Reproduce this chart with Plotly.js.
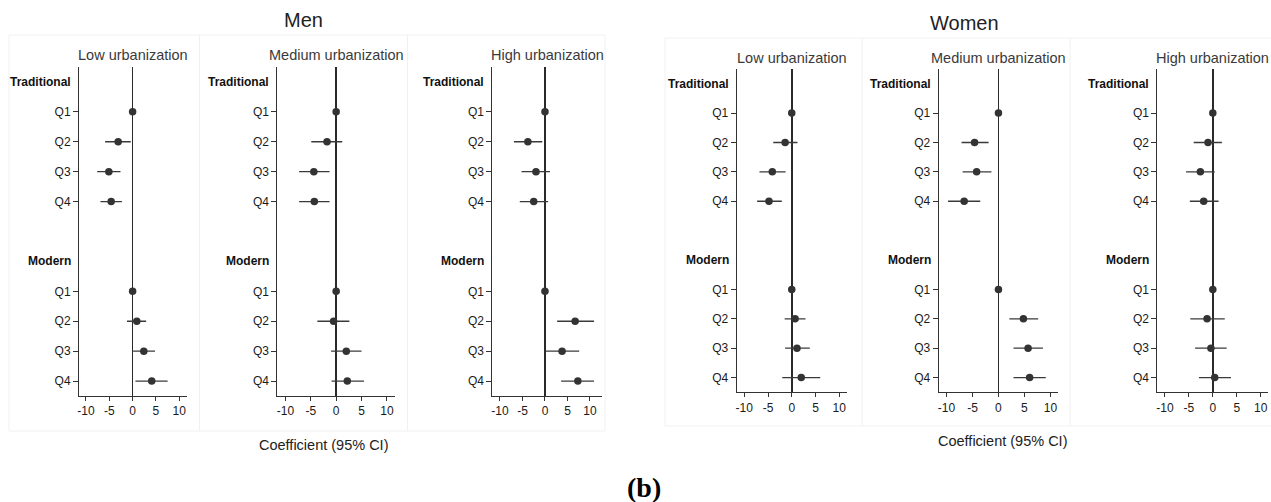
<!DOCTYPE html>
<html>
<head>
<meta charset="utf-8">
<script src="https://cdn.plot.ly/plotly-3.0.1.min.js"></script>
<style>html,body{margin:0;padding:0;background:#fff;}#chart{width:1271px;height:502px;}</style>
</head>
<body>
<div id="chart"></div>
<script>
// ---- Data ----
const sexes = ['Men', 'Women'];
const urbanLevels = ['Low urbanization', 'Medium urbanization', 'High urbanization'];
const groupHeaders = ['Traditional', 'Modern'];
const quartiles = ['Q1', 'Q2', 'Q3', 'Q4'];
const xTickVals = [-10, -5, 0, 5, 10];
const xTickText = ['-10', '-5', '0', '5', '10'];
const xAxisLabel = 'Coefficient (95% CI)';
const panelLetter = '(b)';

// Order in each series: Traditional Q1..Q4, Modern Q1..Q4
const menLowCoef   = [0, -3.1, -5.1, -4.6, 0, 0.9, 2.4, 4.1];
const menLowLo     = [0, -5.9, -7.6, -6.9, 0, -1.2, 0.1, 0.6];
const menLowHi     = [0, -0.4, -2.6, -2.3, 0, 2.9, 4.8, 7.5];
const menMedCoef   = [0, -1.8, -4.4, -4.3, 0, -0.5, 2.0, 2.2];
const menMedLo     = [0, -4.9, -7.3, -7.3, 0, -3.7, -1.0, -0.9];
const menMedHi     = [0, 1.2, -1.3, -1.3, 0, 2.6, 5.0, 5.5];
const menHighCoef  = [0, -3.8, -2.0, -2.5, 0, 6.7, 3.8, 7.3];
const menHighLo    = [0, -6.9, -5.2, -5.6, 0, 2.7, 0.15, 3.6];
const menHighHi    = [0, -0.6, 1.1, 0.7, 0, 10.9, 7.6, 10.9];
const womenLowCoef  = [0, -1.4, -4.1, -4.8, 0, 0.7, 1.1, 2.0];
const womenLowLo    = [0, -3.9, -6.8, -7.3, 0, -1.5, -1.4, -2.0];
const womenLowHi    = [0, 1.2, -1.3, -2.1, 0, 2.9, 3.8, 6.0];
const womenMedCoef  = [0, -4.6, -4.2, -6.6, 0, 4.8, 5.7, 6.0];
const womenMedLo    = [0, -7.1, -6.9, -9.7, 0, 2.1, 2.9, 2.9];
const womenMedHi    = [0, -1.9, -1.35, -3.5, 0, 7.65, 8.55, 9.1];
const womenHighCoef = [0, -1.0, -2.6, -1.9, 0, -1.2, -0.4, 0.4];
const womenHighLo   = [0, -4.0, -5.6, -4.8, 0, -4.7, -3.7, -2.9];
const womenHighHi   = [0, 1.9, 0.4, 1.2, 0, 2.5, 2.9, 3.8];

const series = [
  [menLowCoef, menLowLo, menLowHi], [menMedCoef, menMedLo, menMedHi], [menHighCoef, menHighLo, menHighHi],
  [womenLowCoef, womenLowLo, womenLowHi], [womenMedCoef, womenMedLo, womenMedHi], [womenHighCoef, womenHighLo, womenHighHi]
];

// ---- Layout geometry (pixels) ----
const W = 1271, H = 502;
const panelX = [[79, 186.7], [277.3, 395], [492.3, 601.7], [736.7, 847.3], [938.7, 1057.7], [1157.3, 1268.3]];
const panelRange = [[-11.5, 11.6], [-11.6, 11.6], [-11.7, 12.6], [-11.6, 11.7], [-11.5, 11.4], [-11.6, 11.6]];
const sexY = [[67, 396], [69, 392.3]];
const subtitleY = [55, 58];
const sexTitlePos = [[303, 20], [964, 23]];
const coefTitlePos = [[323, 445], [1002, 441]];
const boxes = [
  {x0: 9, x1: 605, y0: 35, y1: 431, seps: [199.5, 407.5]},
  {x0: 665, x1: 1275, y0: 38, y1: 426, seps: [862, 1070]}
];

const FONT = 'Liberation Sans, Arial, sans-serif';
const DARK = '#333333';

const rowOf = (g, q) => g * 6 + 1 + q;
const qRows = [], qText = [];
groupHeaders.forEach((h, g) => quartiles.forEach((q, qi) => { qRows.push(rowOf(g, qi)); qText.push(q); }));

const traces = [];
const layout = {
  width: W, height: H,
  margin: {l: 0, r: 0, t: 0, b: 0},
  paper_bgcolor: '#fff', plot_bgcolor: 'rgba(0,0,0,0)',
  showlegend: false,
  font: {family: FONT, color: DARK},
  annotations: [], shapes: []
};

const px = x => x / W;
const py = y => 1 - y / H;

series.forEach((s, i) => {
  const n = i + 1;
  const sx = i < 3 ? 0 : 1;
  const xa = n === 1 ? 'x' : 'x' + n;
  const ya = n === 1 ? 'y' : 'y' + n;
  const [coef, lo, hi] = s;
  traces.push({
    type: 'scatter', mode: 'markers', xaxis: xa, yaxis: ya,
    x: coef, y: qRows,
    marker: {color: DARK, size: 7.5},
    error_x: {type: 'data', symmetric: false,
      array: coef.map((c, k) => hi[k] - c), arrayminus: coef.map((c, k) => c - lo[k]),
      width: 0, thickness: 1.3, color: '#3a3a3a'},
    hoverinfo: 'skip', cliponaxis: false
  });
  const xKey = n === 1 ? 'xaxis' : 'xaxis' + n;
  const yKey = n === 1 ? 'yaxis' : 'yaxis' + n;
  layout[xKey] = {
    domain: [px(panelX[i][0]), px(panelX[i][1])], anchor: ya,
    range: panelRange[i], tickvals: xTickVals, ticktext: xTickText,
    ticks: 'outside', ticklen: 4, tickcolor: DARK, tickwidth: 1,
    showline: true, linecolor: DARK, linewidth: 1, mirror: false,
    showgrid: false, zeroline: true, zerolinecolor: '#2a2a2a', zerolinewidth: 1.6,
    tickfont: {family: FONT, size: 12, color: '#1a1a1a'}, fixedrange: true
  };
  layout[yKey] = {
    domain: [py(sexY[sx][1]), py(sexY[sx][0])], anchor: xa,
    range: [10.5, -0.5], tickvals: qRows, ticktext: qText,
    ticks: 'outside', ticklen: 5, tickcolor: DARK, tickwidth: 1,
    showline: true, linecolor: DARK, linewidth: 1,
    showgrid: false, zeroline: false,
    tickfont: {family: FONT, size: 12, color: '#1a1a1a'}, fixedrange: true
  };
  groupHeaders.forEach((h, g) => {
    layout.annotations.push({
      text: '<b>' + h + '</b>', xref: xa + ' domain', yref: ya,
      x: 0, y: rowOf(g, -1), xshift: -6, xanchor: 'right', yanchor: 'middle',
      showarrow: false, font: {family: FONT, size: 12, color: '#111'}
    });
  });
  layout.annotations.push({
    text: urbanLevels[i % 3], xref: 'paper', yref: 'paper',
    x: px((panelX[i][0] + panelX[i][1]) / 2), y: py(subtitleY[sx]),
    xanchor: 'center', yanchor: 'middle', showarrow: false,
    font: {family: FONT, size: 14.5, color: '#3a3a3a'}
  });
});

sexes.forEach((s, k) => {
  layout.annotations.push({
    text: s, xref: 'paper', yref: 'paper', x: px(sexTitlePos[k][0]), y: py(sexTitlePos[k][1]),
    xanchor: 'center', yanchor: 'middle', showarrow: false,
    font: {family: FONT, size: 20, color: '#222'}
  });
  layout.annotations.push({
    text: xAxisLabel, xref: 'paper', yref: 'paper', x: px(coefTitlePos[k][0]), y: py(coefTitlePos[k][1]),
    xanchor: 'center', yanchor: 'middle', showarrow: false,
    font: {family: FONT, size: 14.5, color: '#222'}
  });
  const b = boxes[k];
  layout.shapes.push({type: 'rect', xref: 'paper', yref: 'paper', x0: px(b.x0), x1: px(b.x1), y0: py(b.y1), y1: py(b.y0),
    line: {color: '#f1f1f1', width: 1}, layer: 'below'});
  b.seps.forEach(sx => layout.shapes.push({type: 'line', xref: 'paper', yref: 'paper', x0: px(sx), x1: px(sx),
    y0: py(b.y1), y1: py(b.y0), line: {color: '#f1f1f1', width: 1}, layer: 'below'}));
});

layout.annotations.push({
  text: '<b>' + panelLetter + '</b>', xref: 'paper', yref: 'paper', x: px(644), y: py(487),
  xanchor: 'center', yanchor: 'middle', showarrow: false,
  font: {family: 'Liberation Serif, Times New Roman, serif', size: 28, color: '#000'}
});

Plotly.newPlot('chart', traces, layout, {displayModeBar: false, staticPlot: true});
</script>
</body>
</html>
